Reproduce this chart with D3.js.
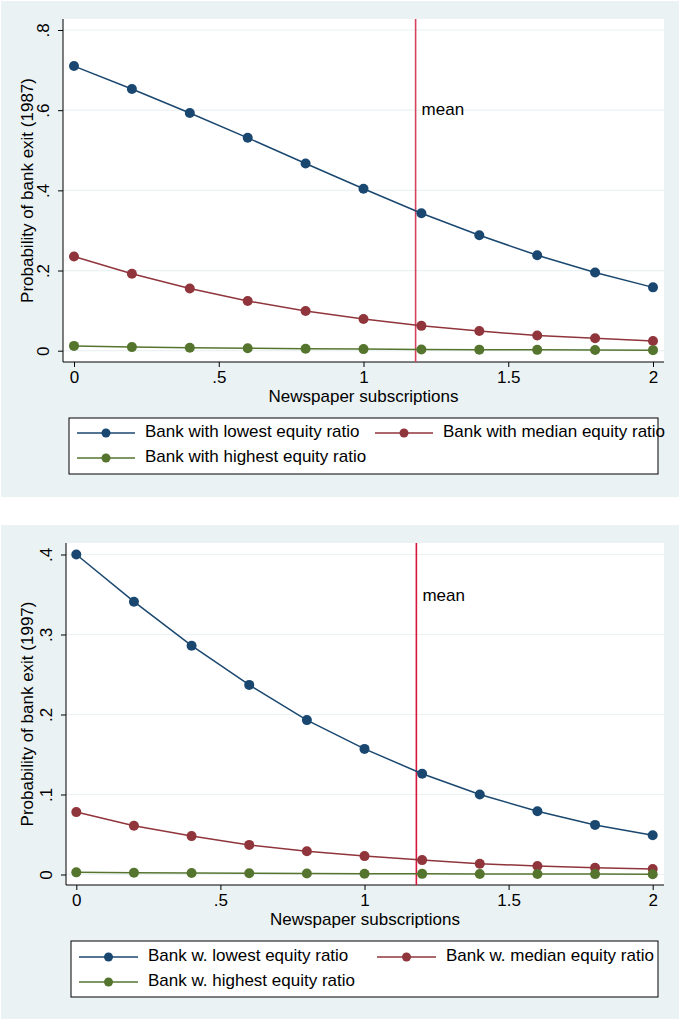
<!DOCTYPE html>
<html>
<head>
<meta charset="utf-8">
<script src="https://cdn.jsdelivr.net/npm/d3@7"></script>
<style>
  body { margin: 0; background: #fff; }
  svg { display: block; font-family: "Liberation Sans", Arial, sans-serif; }
</style>
</head>
<body>
<svg id="chart" width="679" height="1019"></svg>
<script>
const subscriptions = [0, 0.2, 0.4, 0.6, 0.8, 1.0, 1.2, 1.4, 1.6, 1.8, 2.0];
const xTicks = [0, 0.5, 1, 1.5, 2];
const xTickLabels = ["0", ".5", "1", "1.5", "2"];
const meanSubscriptions = 1.18;

// 1987 panel
const low1987 = [0.710, 0.653, 0.593, 0.531, 0.467, 0.404, 0.343, 0.288, 0.238, 0.195, 0.158];
const med1987 = [0.235, 0.192, 0.155, 0.124, 0.099, 0.079, 0.062, 0.049, 0.038, 0.031, 0.024];
const high1987 = [0.012, 0.009, 0.0075, 0.006, 0.005, 0.004, 0.0032, 0.0026, 0.0021, 0.0017, 0.0014];
const yTicks1987 = [0, 0.2, 0.4, 0.6, 0.8];
const yTickLabels1987 = ["0", ".2", ".4", ".6", ".8"];
const names1987 = ["Bank with lowest equity ratio", "Bank with median equity ratio", "Bank with highest equity ratio"];

// 1997 panel
const low1997 = [0.400, 0.341, 0.286, 0.237, 0.193, 0.157, 0.126, 0.100, 0.079, 0.062, 0.049];
const med1997 = [0.078, 0.061, 0.048, 0.037, 0.029, 0.023, 0.018, 0.0135, 0.0106, 0.0085, 0.0069];
const high1997 = [0.0027, 0.0022, 0.0018, 0.0015, 0.0012, 0.001, 0.0008, 0.0007, 0.0006, 0.0005, 0.0004];
const yTicks1997 = [0, 0.1, 0.2, 0.3, 0.4];
const yTickLabels1997 = ["0", ".1", ".2", ".3", ".4"];
const names1997 = ["Bank w. lowest equity ratio", "Bank w. median equity ratio", "Bank w. highest equity ratio"];

const colors = ["#1a476f", "#90353b", "#55752f"];
const bg = "#eaf2f3";
const fs = 17;

const svg = d3.select("#chart");

function drawPanel(p) {
  const g = svg.append("g").attr("transform", `translate(0,${p.top})`);

  g.append("rect").attr("x", 1).attr("y", 0).attr("width", 678).attr("height", p.height).attr("fill", bg);

  const x = d3.scaleLinear().domain([0, 2]).range([p.x0, p.x2]);
  const y = d3.scaleLinear().domain([0, p.yMax]).range([p.y0, p.yTop]);

  g.append("rect")
    .attr("x", p.left).attr("y", p.plotTop)
    .attr("width", 664 - p.left).attr("height", p.plotBottom - p.plotTop)
    .attr("fill", "#fff");

  // gridlines
  g.append("g").selectAll("line").data(p.yTicks).join("line")
    .attr("x1", p.left).attr("x2", 664)
    .attr("y1", d => y(d)).attr("y2", d => y(d))
    .attr("stroke", bg).attr("stroke-width", 1.2);

  // axes
  const yAxis = g.append("g").attr("transform", `translate(${p.left},0)`)
    .call(d3.axisLeft(y).tickValues(p.yTicks).tickFormat((d, i) => p.yLabels[i]).tickSize(5));
  yAxis.select(".domain").attr("d", `M0,${p.plotTop}V${p.plotBottom}`).attr("stroke", "#000");
  yAxis.selectAll(".tick text")
    .attr("font-size", fs).attr("fill", "#000")
    .attr("text-anchor", "middle").attr("x", null).attr("dy", null)
    .attr("transform", "translate(-18,0) rotate(-90)")
    .attr("dominant-baseline", "middle");

  const xAxis = g.append("g").attr("transform", `translate(0,${p.plotBottom})`)
    .call(d3.axisBottom(x).tickValues(xTicks).tickFormat((d, i) => xTickLabels[i]).tickSize(5).tickPadding(4));
  xAxis.select(".domain").attr("d", `M${p.left},0H664`).attr("stroke", "#000");
  xAxis.selectAll(".tick text").attr("font-size", fs).attr("fill", "#000");

  g.append("text")
    .attr("transform", `translate(29,${(p.plotTop + p.plotBottom) / 2}) rotate(-90)`)
    .attr("text-anchor", "middle").attr("dominant-baseline", "middle")
    .attr("font-size", fs).text(p.yTitle);

  g.append("text")
    .attr("x", (p.left + 664) / 2).attr("y", p.plotBottom + 36)
    .attr("text-anchor", "middle").attr("dominant-baseline", "middle")
    .attr("font-size", fs).text("Newspaper subscriptions");

  // mean line
  g.append("line")
    .attr("x1", x(meanSubscriptions)).attr("x2", x(meanSubscriptions))
    .attr("y1", p.plotTop).attr("y2", p.plotBottom)
    .attr("stroke", p.meanColor).attr("stroke-width", 1.6);
  g.append("text")
    .attr("x", x(meanSubscriptions) + 6).attr("y", y(p.meanLabelY))
    .attr("dominant-baseline", "middle").attr("font-size", fs).text("mean");

  const line = d3.line().x((d, i) => x(subscriptions[i])).y(d => y(d));
  p.series.forEach((s, k) => {
    g.append("path").datum(s).attr("d", line)
      .attr("fill", "none").attr("stroke", colors[k]).attr("stroke-width", 1.5);
    g.append("g").selectAll("circle").data(s).join("circle")
      .attr("cx", (d, i) => x(subscriptions[i])).attr("cy", d => y(d))
      .attr("r", 5).attr("fill", colors[k]);
  });

  // legend
  const L = p.legend;
  g.append("rect").attr("x", L.x).attr("y", L.y).attr("width", L.w).attr("height", L.h)
    .attr("fill", "#fff").attr("stroke", "#000").attr("stroke-width", 1);
  const pos = [
    { lx: L.c1, ty: L.r1 }, { lx: L.c2, ty: L.r1 }, { lx: L.c1, ty: L.r2 }
  ];
  p.names.forEach((name, k) => {
    const q = pos[k];
    g.append("line").attr("x1", q.lx).attr("x2", q.lx + L.sw)
      .attr("y1", q.ty).attr("y2", q.ty).attr("stroke", colors[k]).attr("stroke-width", 1.5);
    g.append("circle").attr("cx", q.lx + L.sw / 2).attr("cy", q.ty).attr("r", 4.5).attr("fill", colors[k]);
    g.append("text").attr("x", q.lx + L.sw + 10).attr("y", q.ty)
      .attr("dominant-baseline", "middle").attr("font-size", fs).text(name);
  });
}

drawPanel({
  top: 1, height: 496,
  left: 63, plotTop: 18, plotBottom: 361,
  x0: 74, x2: 653, y0: 349.7, yTop: 29, yMax: 0.8,
  yTicks: yTicks1987, yLabels: yTickLabels1987,
  yTitle: "Probability of bank exit (1987)",
  meanColor: "#d3425f", meanLabelY: 0.6,
  series: [low1987, med1987, high1987], names: names1987,
  legend: { x: 69, y: 417, w: 589, h: 56, r1: 432, r2: 457, c1: 77, c2: 375, sw: 58 }
});

drawPanel({
  top: 525, height: 494,
  left: 66, plotTop: 18, plotBottom: 360,
  x0: 76.3, x2: 652.7, y0: 349.5, yTop: 29.5, yMax: 0.4,
  yTicks: yTicks1997, yLabels: yTickLabels1997,
  yTitle: "Probability of bank exit (1997)",
  meanColor: "#d4173a", meanLabelY: 0.348,
  series: [low1997, med1997, high1997], names: names1997,
  legend: { x: 71, y: 416, w: 587, h: 56, r1: 432, r2: 457, c1: 79, c2: 377, sw: 59 }
});
</script>
</body>
</html>
